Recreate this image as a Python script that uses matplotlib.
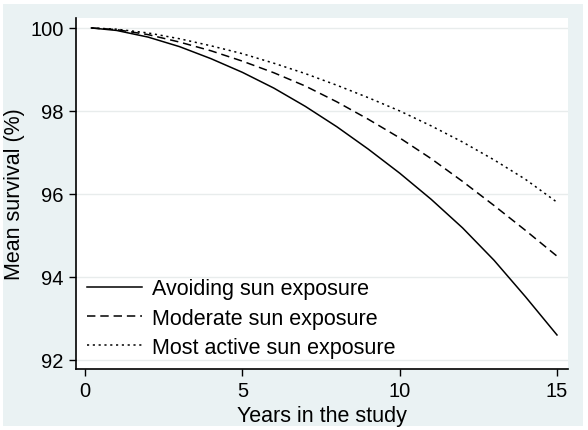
import numpy as np
import matplotlib
matplotlib.use("Agg")
import matplotlib.pyplot as plt
from matplotlib.patches import Rectangle

plt.rcParams['font.family'] = ['Liberation Sans', 'DejaVu Sans']

# values (mean survival, %)
years = [0.2, 1, 2, 3, 4, 5, 6, 7, 8, 9, 10, 11, 12, 13, 14, 15]
avoiding = [100, 99.94, 99.78, 99.55, 99.26, 98.93, 98.55, 98.11, 97.62,
            97.08, 96.50, 95.87, 95.18, 94.40, 93.52, 92.60]
moderate = [100, 99.96, 99.84, 99.66, 99.45, 99.20, 98.92, 98.60, 98.22,
            97.80, 97.35, 96.85, 96.30, 95.72, 95.12, 94.50]
most_active = [100, 99.97, 99.88, 99.74, 99.57, 99.38, 99.15, 98.90, 98.62,
               98.32, 98.00, 97.64, 97.25, 96.82, 96.35, 95.80]
labels = ['Avoiding sun exposure', 'Moderate sun exposure',
          'Most active sun exposure']
xticks = [0, 5, 10, 15]
yticks = [92, 94, 96, 98, 100]

fig = plt.figure(figsize=(5.88, 4.31), dpi=100, facecolor='white')
# stata style outer background
fig.patches.append(Rectangle((3/588, 4/431), 580/588, 422/431,
                             transform=fig.transFigure, facecolor='#EAF2F3',
                             edgecolor='none', zorder=-10))

ax = fig.add_axes([76/588, 1-370/431, 492/588, 351/431])
ax.set_facecolor('white')

for y in yticks:
    ax.axhline(y, color='#E8ECEC', lw=1.0, zorder=0)

ax.plot(years, avoiding, color='black', lw=1.1, ls='-', label=labels[0])
ax.plot(years, moderate, color='black', lw=1.1, dashes=(5.5, 3.2), label=labels[1])
ax.plot(years, most_active, color='black', lw=1.1, dashes=(1.4, 2.4), label=labels[2])

ax.set_xlim(-0.29, 15.35)
ax.set_ylim(91.78, 100.24)
ax.set_xticks(xticks)
ax.set_yticks(yticks)
ax.set_yticklabels([str(v) for v in yticks])

for s in ['top', 'right']:
    ax.spines[s].set_visible(False)
for s in ['left', 'bottom']:
    ax.spines[s].set_linewidth(1.2)
    ax.spines[s].set_color('black')

ax.tick_params(axis='both', direction='out', length=5, width=1.0,
               labelsize=14.5, color='black')
ax.tick_params(axis='y', pad=4)
ax.tick_params(axis='x', pad=4)

ax.set_xlabel('Years in the study', fontsize=15.5, labelpad=3)
ax.set_ylabel('Mean survival (%)', fontsize=15.5, labelpad=4)

leg = ax.legend(loc='lower left', bbox_to_anchor=(0.022, 0.032), frameon=False,
                fontsize=15.5, handlelength=2.55, handletextpad=0.5,
                labelspacing=0.38, borderpad=0, borderaxespad=0)

fig.savefig('out.png', dpi=100, facecolor=fig.get_facecolor())
